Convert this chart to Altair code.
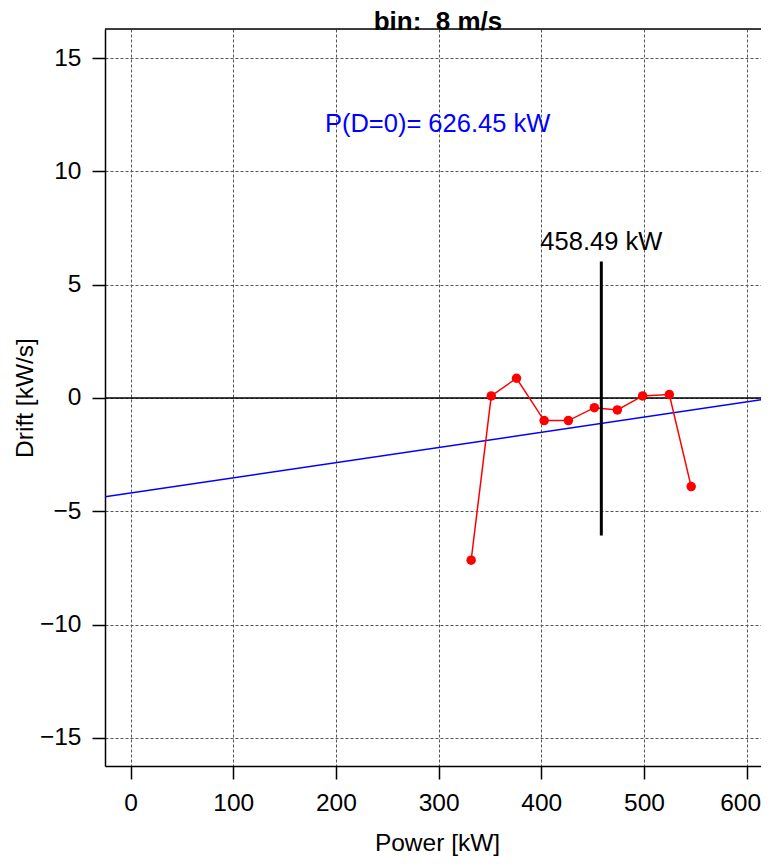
import altair as alt
import pandas as pd

# Data
power = [331.7, 351.3, 375.9, 402.8, 426.4, 451.7, 474.1, 498.7, 524.7, 546.0]
drift = [-7.16, 0.09, 0.87, -1.0, -1.0, -0.43, -0.53, 0.09, 0.15, -3.91]

fit_power = [-24.9, 626.45]
fit_drift = [-4.36, 0.0]

vline_power = [458.49]
vline_low = [-6.07]
vline_high = [6.02]

x_ticks = [0, 100, 200, 300, 400, 500, 600]
y_ticks = [-15, -10, -5, 0, 5, 10, 15]

x_domain = [-24.9, 614.0]
y_domain = [-16.24, 16.28]

title_text = "bin:\u00a0\u00a08 m/s"
fit_label = "P(D=0)= 626.45 kW"
fit_label_pos = [299, 12.1]
vline_label = "458.49 kW"
vline_label_y = [6.55]

FONT = "Liberation Sans"
W, H = 656, 737
LAB = 24.5
ANN = 25.5

pts = pd.DataFrame({"power": power, "drift": drift})
one = pd.DataFrame({"k": [0]})
fit = pd.DataFrame({"power": fit_power, "drift": fit_drift})
vl = pd.DataFrame({"power": vline_power, "lo": vline_low, "hi": vline_high,
                   "ly": vline_label_y, "label": [vline_label]})
fl = pd.DataFrame({"power": [fit_label_pos[0]], "drift": [fit_label_pos[1]], "label": [fit_label]})

xs = alt.Scale(domain=x_domain, nice=False, zero=False)
ys = alt.Scale(domain=y_domain, nice=False, zero=False)

common = dict(labelFontSize=LAB, titleFontSize=LAB, labelFont=FONT, titleFont=FONT,
              labelColor="black", titleColor="black", titleFontWeight="normal",
              tickSize=13, tickColor="black", tickWidth=1.5,
              domainColor="black", domainWidth=1.5,
              grid=True, gridDash=[3, 2], gridColor="#555", gridWidth=1,
              titleBaseline="alphabetic")
x_axis = alt.Axis(values=x_ticks, title="Power [kW]", labelPadding=12, titleY=84,
                  titleX=332, titleAnchor="middle", labelFlush=20, labelFlushOffset=14,
                  **common)
y_axis = alt.Axis(values=y_ticks, title="Drift [kW/s]", labelPadding=11, titleX=-73,
                  labelFlush=False, **common)

base_axes = alt.Chart(pts).mark_point(opacity=0).encode(
    x=alt.X("power:Q", scale=xs, axis=x_axis),
    y=alt.Y("drift:Q", scale=ys, axis=y_axis),
)

zero_line = alt.Chart(one).mark_rule(color="black", strokeWidth=1.5).encode(
    y=alt.datum(0), x=alt.value(0), x2=alt.value(W)
)
top_border = alt.Chart(one).mark_rule(color="black", strokeWidth=1.5).encode(
    y=alt.value(0), x=alt.value(0), x2=alt.value(W)
)

fit_line = alt.Chart(fit).mark_line(color="blue", strokeWidth=1.5, clip=True).encode(
    x=alt.X("power:Q", scale=xs), y=alt.Y("drift:Q", scale=ys)
)

red_line = alt.Chart(pts).mark_line(color="red", strokeWidth=1.5).encode(
    x=alt.X("power:Q", scale=xs), y=alt.Y("drift:Q", scale=ys)
)
red_pts = alt.Chart(pts).mark_circle(color="red", size=90, opacity=1).encode(
    x=alt.X("power:Q", scale=xs), y=alt.Y("drift:Q", scale=ys)
)

vrule = alt.Chart(vl).mark_rule(color="black", strokeWidth=3).encode(
    x=alt.X("power:Q", scale=xs), y=alt.Y("lo:Q", scale=ys), y2="hi:Q"
)
vtext = alt.Chart(vl).mark_text(font=FONT, fontSize=ANN, color="black", align="center",
                                baseline="alphabetic").encode(
    x=alt.X("power:Q", scale=xs), y=alt.Y("ly:Q", scale=ys), text="label:N"
)
ftext = alt.Chart(fl).mark_text(font=FONT, fontSize=ANN, color="blue", align="center",
                                baseline="middle").encode(
    x=alt.X("power:Q", scale=xs), y=alt.Y("drift:Q", scale=ys), text="label:N"
)

title = alt.Chart(one).mark_text(text=title_text, font=FONT, fontSize=26, fontWeight="bold",
                                 color="black", align="center", baseline="alphabetic").encode(
    x=alt.value(333), y=alt.value(0.5)
)

chart = alt.layer(
    base_axes, zero_line, fit_line, red_line, red_pts, vrule, vtext, ftext, top_border, title
).properties(
    width=W, height=H,
    autosize=alt.AutoSizeParams(type="none"),
    padding={"left": 97, "top": 21, "right": 0, "bottom": 91},
).configure_view(stroke=None).configure(background="white")

chart.save("out.html", embed_options={"renderer": "svg", "actions": False})
